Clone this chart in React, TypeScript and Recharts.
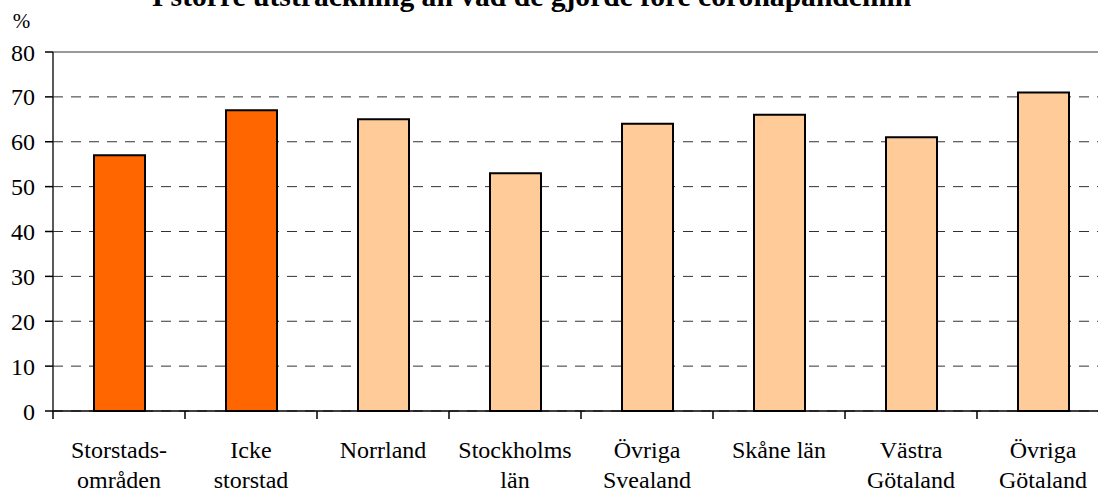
import React from "react";
import {
  Bar,
  BarChart,
  CartesianGrid,
  Cell,
  ReferenceLine,
  XAxis,
  YAxis,
} from "recharts";

const categories = [
  "Storstads-\nområden",
  "Icke\nstorstad",
  "Norrland",
  "Stockholms\nlän",
  "Övriga\nSvealand",
  "Skåne län",
  "Västra\nGötaland",
  "Övriga\nGötaland",
];
const values = [57, 67, 65, 53, 64, 66, 61, 71];
const barColors = ["#FF6600", "#FF6600", "#FFCC99", "#FFCC99", "#FFCC99", "#FFCC99", "#FFCC99", "#FFCC99"];
const yTicks = [0, 10, 20, 30, 40, 50, 60, 70, 80];
const title = "I större utsträckning än vad de gjorde före coronapandemin";
const unit = "%";

const data = categories.map((name, i) => ({ name, value: values[i] }));

const FONT = "'Liberation Serif', 'Times New Roman', serif";
const CHART_W = 1120;
const CHART_H = 490;
const MARGIN = { top: 52, right: 11, left: 8, bottom: 0 };
const Y_AXIS_W = 45;
const PLOT_W = CHART_W - MARGIN.left - MARGIN.right - Y_AXIS_W;
const BAND = PLOT_W / categories.length;

function CategoryTick(props: any) {
  const { x, y, payload } = props;
  const lines = String(payload.value).split("\n");
  return (
    <g>
      <line x1={x - BAND / 2} y1={y} x2={x - BAND / 2} y2={y + 8} stroke="#000" strokeWidth={1.5} />
      <text textAnchor="middle" fontFamily={FONT} fontSize={24} fill="#000">
        {lines.map((line, i) => (
          <tspan key={i} x={x} y={y + 47 + i * 30}>
            {line}
          </tspan>
        ))}
      </text>
    </g>
  );
}

export default function App() {
  return (
    <div
      style={{
        position: "fixed",
        left: 0,
        top: 0,
        width: 1098,
        height: 490,
        overflow: "hidden",
        background: "#fff",
      }}
    >
      <BarChart width={CHART_W} height={CHART_H} data={data} margin={MARGIN} barSize={51}>
        <CartesianGrid vertical={false} stroke="#333" strokeDasharray="10 8" />
        <ReferenceLine y={80} stroke="#999" strokeWidth={2} />
        <XAxis
          dataKey="name"
          height={79}
          interval={0}
          tickLine={false}
          tickSize={0}
          tickMargin={0}
          axisLine={{ stroke: "#000", strokeWidth: 1.5 }}
          tick={<CategoryTick />}
        />
        <YAxis
          width={Y_AXIS_W}
          domain={[0, 80]}
          ticks={yTicks}
          interval={0}
          tickSize={8}
          tickMargin={10}
          axisLine={{ stroke: "#222", strokeWidth: 1.5 }}
          tickLine={{ stroke: "#000", strokeWidth: 1.5 }}
          tick={{ fontFamily: FONT, fontSize: 24, fill: "#000" }}
        />
        <Bar dataKey="value" stroke="#000" strokeWidth={2} isAnimationActive={false}>
          {data.map((d, i) => (
            <Cell key={d.name} fill={barColors[i]} />
          ))}
        </Bar>
      </BarChart>
      <svg
        width={1098}
        height={40}
        style={{ position: "absolute", left: 0, top: 0, pointerEvents: "none" }}
      >
        <text x={531.5} y={5.5} textAnchor="middle" fontFamily={FONT} fontWeight="bold" fontSize={29.6} fill="#000">
          {title}
        </text>
        <text x={12.7} y={28} fontFamily={FONT} fontSize={21} fill="#000">
          {unit}
        </text>
      </svg>
    </div>
  );
}
